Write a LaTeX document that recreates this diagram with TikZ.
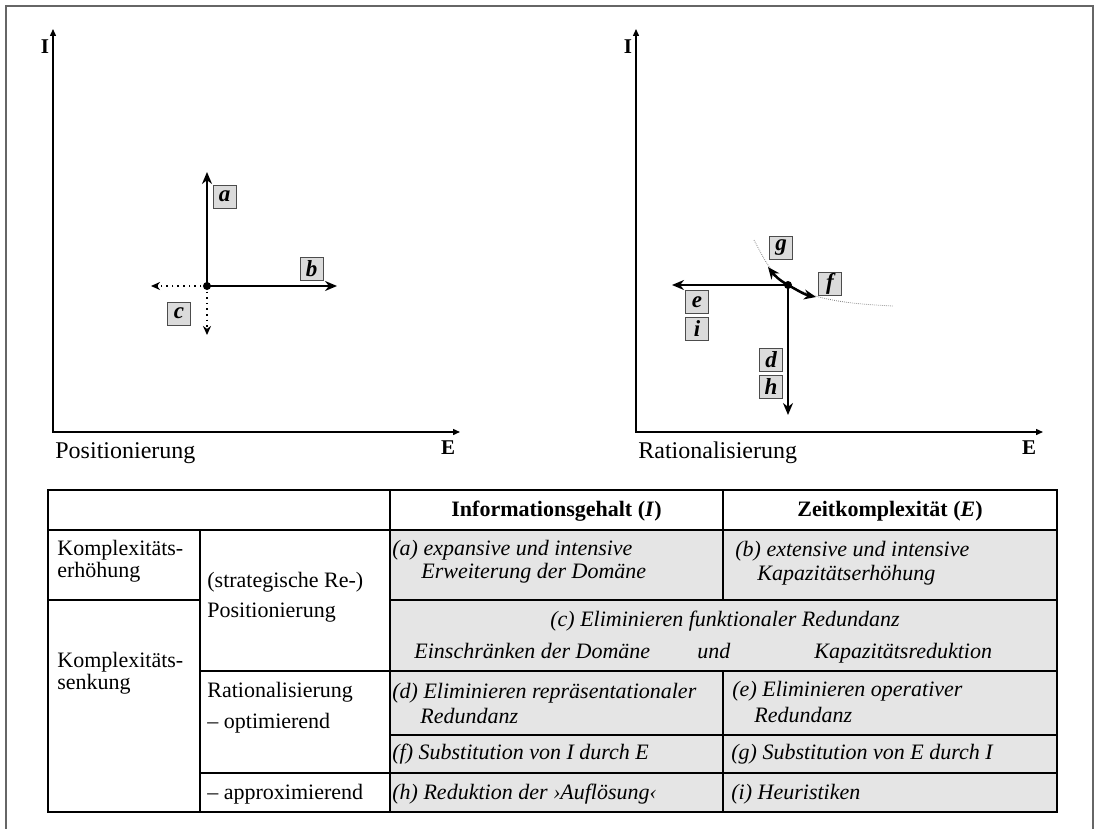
\documentclass[tikz,border=0pt]{standalone}
\usepackage{fontspec}
\setmainfont{Liberation Serif}
\usepackage{xcolor}
\usetikzlibrary{positioning,arrows.meta}
\definecolor{cellgray}{gray}{0.9}
\definecolor{tagfill}{gray}{0.86}
\definecolor{framegray}{gray}{0.4}

\begin{document}
\begin{tikzpicture}[x=0.5pt, y=0.5pt,
  every node/.style={inner sep=0pt, font=\fontsize{11}{13}\selectfont},
  axis/.style={line width=0.7pt, {Triangle[length=3.5pt,width=3pt]}-{Triangle[length=3.5pt,width=3pt]}},
  move/.style={line width=1.25pt, -{Stealth[length=6pt,width=5pt]}},
  back/.style={line width=0.8pt, dotted, -{Stealth[length=4.5pt,width=4pt,open]}},
  curve/.style={gray, line width=0.4pt, dash pattern=on 0.4pt off 0.6pt},
  tag/.style={draw=black!70, fill=tagfill, line width=0.5pt, minimum size=11.5pt, font=\fontsize{11.5}{11.5}\selectfont\bfseries\itshape},
  axlbl/.style={font=\fontsize{10.5}{10.5}\selectfont\bfseries},
  title/.style={anchor=base west, font=\fontsize{12}{12}\selectfont},
  txt/.style={anchor=base west},
  it/.style={anchor=base west, font=\fontsize{11}{13}\selectfont\itshape},
  grid/.style={line width=1.2pt}]
\useasboundingbox (0,0) rectangle (1098,-829);
\draw[framegray, line width=1pt] (6,-829) |- (1093,-6) -- (1093,-829);

% Positionierung
\coordinate (pO) at (207,-286);
\coordinate (pA) at (207,-172);
\coordinate (pB) at (337,-286);
\coordinate (pCl) at (151,-286);
\coordinate (pCd) at (207,-335);
\coordinate (px0) at (53,-432);
\coordinate (pxI) at (53,-29);
\coordinate (pxE) at (460,-432);
\draw[axis] (pxI) -- (px0) -- (pxE);
\node[axlbl] (pI) at (45,-47) {I};
\node[axlbl] (pE) at (448,-448) {E};
\node[title] (pos) at (55,-458) {Positionierung};
\draw[back] (pO) -- (pCl);
\draw[back] (pO) -- (pCd);
\draw[move] (pO) -- (pA);
\draw[move] (pO) -- (pB);
\fill (pO) circle (2pt);
\node[tag] (la) at (224.5,-196.5) {a};
\node[tag] (lb) at (311.5,-268.5) {b};
\node[tag] (lc) at (179,-313.5) {c};

% Rationalisierung
\coordinate (rO) at (788,-285);
\coordinate (rE) at (672,-285);
\coordinate (rD) at (788,-415);
\coordinate (rG) at (768,-267);
\coordinate (rF) at (816,-297);
\coordinate (cA) at (754,-240);
\coordinate (cB) at (893,-306);
\coordinate (rx0) at (636,-432);
\coordinate (rxI) at (636,-29);
\coordinate (rxE) at (1043,-432);
\draw[axis] (rxI) -- (rx0) -- (rxE);
\node[axlbl] (rI) at (628,-47) {I};
\node[axlbl] (rEl) at (1029,-448) {E};
\node[title] (rat) at (638,-458) {Rationalisierung};
\draw[curve] (cA) .. controls (762.7,-256.3) and (771.8,-276.1) .. (rO)
  .. controls (818.7,-301.8) and (858,-304.2) .. (cB);
\draw[move] (rO) -- (rE);
\draw[move] (rO) -- (rD);
\draw[move] (rO) to[out=151,in=-52] (rG);
\draw[move] (rO) to[out=-29,in=168] (rF);
\fill (rO) circle (2pt);
\node[tag] (rg) at (781,-248) {g};
\node[tag] (rf) at (830,-284) {f};
\node[tag] (re) at (697,-302) {e};
\node[tag] (ri) at (697,-328.5) {i};
\node[tag] (rd) at (771,-359.5) {d};
\node[tag] (rh) at (771,-386.5) {h};

% Tabelle
\fill[cellgray] (390,-530) rectangle (1057,-812);
\draw[grid] (48,-490) rectangle (1057,-812);
\draw[grid] (48,-530) -- (1057,-530)
  (48,-600) -- (200,-600) (390,-600) -- (1057,-600)
  (200,-671) -- (1057,-671) (390,-735) -- (1057,-735)
  (200,-773) -- (1057,-773)
  (200,-530) -- (200,-812) (390,-490) -- (390,-812)
  (723,-490) -- (723,-600) (723,-671) -- (723,-812);

\node[anchor=base, font=\fontsize{11}{13}\selectfont\bfseries] (hI) at (556.5,-516) {Informationsgehalt (\textit{I})};
\node[anchor=base, font=\fontsize{11}{13}\selectfont\bfseries] (hE) at (890,-516) {Zeitkomplexität (\textit{E})};

\node[txt] (k1) at (57,-555) {Komplexitäts-};
\node[txt] (k1b) at (57,-577) {erhöhung};
\node[txt] (k2) at (57,-667) {Komplexitäts-};
\node[txt] (k2b) at (57,-689) {senkung};

\node[txt] (s1) at (207,-587) {(strategische Re-)};
\node[txt] (s1b) at (207,-617) {Positionierung};
\node[txt] (s2) at (207,-697) {Rationalisierung};
\node[txt] (s2b) at (207,-728) {– optimierend};
\node[txt] (s3) at (207,-799) {– approximierend};

\node[it] (ta) at (392,-555) {(a) expansive und intensive};
\node[it] (tab) at (421,-578) {Erweiterung der Domäne};
\node[it] (tb) at (735,-556) {(b) extensive und intensive};
\node[it] (tbb) at (757,-580) {Kapazitätserhöhung};
\node[anchor=base, font=\fontsize{11}{13}\selectfont\itshape] (tc) at (725,-626) {(c) Eliminieren funktionaler Redundanz};
\node[it] (tc1) at (414,-658) {Einschränken der Domäne};
\node[it] (tc2) at (697,-658) {und};
\node[it] (tc3) at (814,-658) {Kapazitätsreduktion};
\node[it] (td) at (392,-698) {(d) Eliminieren repräsentationaler};
\node[it] (tdb) at (420,-723) {Redundanz};
\node[it] (te) at (732,-696) {(e) Eliminieren operativer};
\node[it] (teb) at (754,-722) {Redundanz};
\node[it] (tf) at (392,-759) {(f) Substitution von I durch E};
\node[it] (tg) at (731,-759) {(g) Substitution von E durch I};
\node[it] (th) at (392,-799) {(h) Reduktion der ›Auflösung‹};
\node[it] (ti) at (731,-799) {(i) Heuristiken};
\end{tikzpicture}
\end{document}
